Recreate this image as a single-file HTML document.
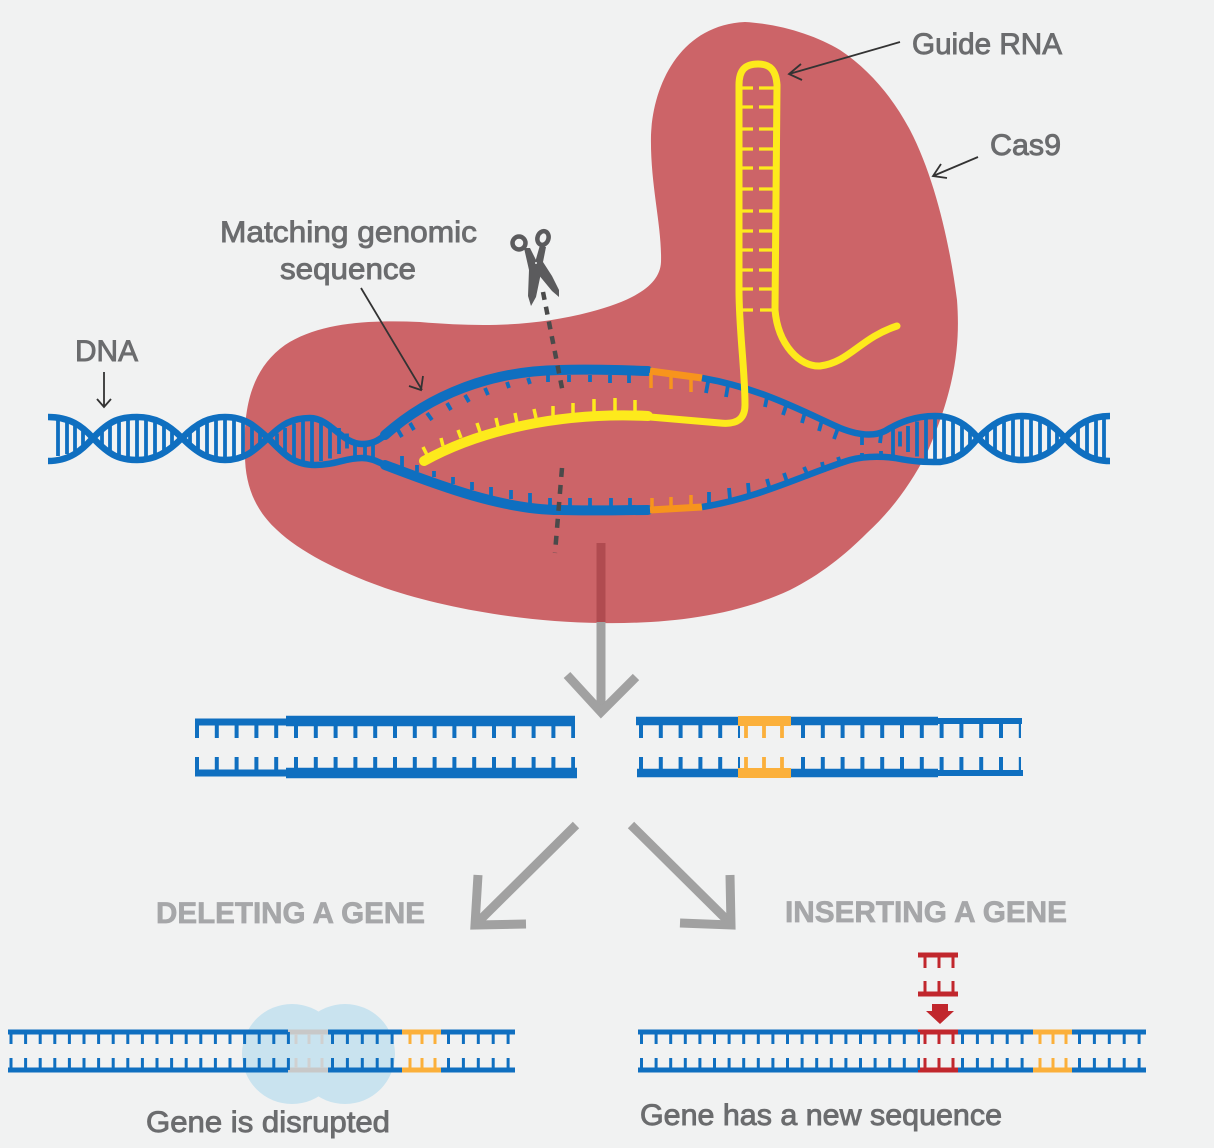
<!DOCTYPE html>
<html>
<head>
<meta charset="utf-8">
<style>
html,body{margin:0;padding:0;background:#f1f2f2;width:1214px;height:1148px;overflow:hidden}
svg{display:block}
text{font-family:"Liberation Sans",sans-serif}
.l{font-size:30px;fill:#6b6c6e;stroke:#6b6c6e;stroke-width:.9}
.h{font-size:30px;font-weight:bold;fill:#a6a7a9;stroke:#a6a7a9;stroke-width:.7}
</style>
</head>
<body>
<svg width="1214" height="1148" viewBox="0 0 1214 1148" xmlns="http://www.w3.org/2000/svg">
<defs>
<g id="lobe" stroke="#0f6fc0" stroke-width="3.8" fill="none">
<path d="M0 -21V21M-9 -20V20M9 -20V20M-18 -17.5V17.5M18 -17.5V17.5M-27 -13V13M27 -13V13M-35 -7.5V7.5M35 -7.5V7.5"/>
</g>
</defs>
<rect width="1214" height="1148" fill="#f1f2f2"/>

<!-- Cas9 -->
<path d="M745 22C780 24 815 35 840 50C870 70 893 98 910 130C935 178 950 245 957 300C960 340 957 385 927 453C910 485 892 510 867 533C845 555 820 575 790 590C730 618 660 624 600 623C530 622 450 610 385 588C340 572 300 552 277 530C255 510 245 485 245 455C243 410 250 370 285 345C320 322 370 320 420 322C490 328 540 325 590 312C635 300 660 285 661 262C662 225 650 185 651 135C653 85 680 25 745 22Z" fill="#cc6468"/>

<!-- DNA helix left -->
<g fill="none" stroke="#0f6fc0" stroke-width="6.5">
<path d="M48 417C70 417 82 426 93 438C110 420 120 417 137 417C155 417 168 424 182 438C198 422 210 417 225 417C245 417 255 426 268 438C282 424 292 418 310 418C330 418 342 444 362 444C372 444 378 441 385 435"/>
<path d="M48 461C70 461 82 450 93 438C110 456 120 460 137 460C155 460 168 452 182 438C198 454 210 460 225 460C245 460 255 450 268 438C282 452 292 465 315 465C335 465 345 458 362 458C372 458 378 462 385 465"/>
</g>
<use href="#lobe" x="137" y="438"/>
<use href="#lobe" x="225" y="438"/>
<use href="#lobe" x="312" y="441"/>
<path d="M58 420V456M67 422V454M75 425V451M83 429V447M355 445V458M365 444V458M373 442V460" stroke="#0f6fc0" stroke-width="3.8" fill="none"/>

<!-- Strands in bubble -->
<g fill="none" stroke-linecap="round">
<path d="M385 435C430 395 490 371 560 370C590 369 620 370 648 371" stroke="#0f6fc0" stroke-width="10"/>
<path d="M385 465C430 482 500 510 560 510C590 511 620 510 648 510" stroke="#0f6fc0" stroke-width="10"/>
</g>
<path d="M650 371L702 378" stroke="#f7941d" stroke-width="7" fill="none"/>
<path d="M650 510L702 507" stroke="#f7941d" stroke-width="7" fill="none"/>
<path d="M702 378C760 388 800 410 840 428C860 436 875 436 885 431C900 422 915 416 935 416C955 416 968 426 978 438C992 424 1004 416 1022 416C1042 416 1054 426 1065 438C1078 424 1090 416 1110 416" fill="none" stroke="#0f6fc0" stroke-width="6.5"/>
<path d="M702 507C760 498 810 472 850 460C865 456 880 456 895 458C915 462 925 462 940 462C958 460 968 450 978 438C992 452 1004 460 1022 460C1042 460 1054 450 1065 438C1078 452 1090 461 1110 461" fill="none" stroke="#0f6fc0" stroke-width="6.5"/>
<use href="#lobe" x="935" y="439"/>
<use href="#lobe" x="1022" y="438"/>
<path d="M1078 425V451M1087 421V455M1096 419V457M1104 418V459" stroke="#0f6fc0" stroke-width="3.8" fill="none"/>
<path d="M893 428V456" stroke="#0f6fc0" stroke-width="3.8"/>

<!-- curved ticks blue -->
<path d="M398 430L402 437M410 423L414 430M427 413L432 420M447 403L451 410M465 395L469 402M485 388L488 395M507 382L509 388M528 378L530 384M548 375V382M569 375V382M590 375V382M610 375V383M629 375V383M708 382L706 393M728 385L726 397M767 397L765 407M787 403L783 415M805 412L802 423M822 420L819 431M838 428L834 439M862 437V445M881 435L880 443M862 453V458M881 451V456M838 457L841 466M822 462L824 472M804 467L809 478M784 473L788 485M767 479L770 490M748 483L749 495M729 488L730 499M709 492V503M630 498V507M611 498V507M590 498V507M570 498V507M550 498V506M530 493V503M511 490V499M491 487V496M472 482V490M453 477V484M434 471V477M417 465V472M402 456V467" stroke="#0f6fc0" stroke-width="3.8" fill="none"/>
<path d="M651 373V388M671 375V389M691 377V392M691 495V505M671 497V507M652 498V508" stroke="#f7941d" stroke-width="3.5" fill="none"/>

<!-- Yellow RNA -->
<path d="M423 447L427 455M441 438L443 446M458 430L461 438M477 423L480 432M496 418L498 427M515 413L517 423M534 409L536 418M553 406V417M573 403V413M594 399V412M615 398V411M635 400V412" stroke="#fdea1c" stroke-width="3.5" fill="none"/>
<path d="M424 461C480 430 560 412 648 416" fill="none" stroke="#fdea1c" stroke-width="10" stroke-linecap="round"/>
<path d="M650 417L720 423C738 425 745 418 745 405C745 370 739 330 739 290L739 85C739 70 745 64 758 64C770 64 776 70 777 85L775 310C778 345 800 367 820 366C850 362 860 338 897 326" fill="none" stroke="#fdea1c" stroke-width="7" stroke-linecap="round"/>
<path d="M738 88H753M759 88H775M738 107H753M759 107H775M738 129H753M759 129H775M738 149H753M759 149H775M738 168H753M759 168H775M738 189H753M759 189H775M738 211H753M759 211H775M738 231H753M759 231H775M738 250H753M759 250H775M738 270H753M759 270H775M738 289H753M759 289H775M738 310H753M760 310H775" stroke="#fdea1c" stroke-width="3.2" fill="none"/>

<!-- cut lines -->
<path d="M543 292L563 393" stroke="#4a4a4a" stroke-width="4.5" stroke-dasharray="8 7" fill="none"/>
<path d="M562 468L555 553" stroke="#4a4a4a" stroke-width="4.5" stroke-dasharray="9 8" fill="none"/>

<!-- Scissors -->
<g fill="#5b5b5d">
<path d="M524 248L530 248L537 262L541 273L536 297L531 306L528 296L529 270Z"/>
<path d="M540 245L546 247L543 262L552 276L559 290L559 297L552 291L538 274L534 266Z"/>
<circle cx="519" cy="243" r="6.5" fill="none" stroke="#5b5b5d" stroke-width="4.5"/>
<ellipse cx="543" cy="238" rx="5.5" ry="7" transform="rotate(18 543 238)" fill="none" stroke="#5b5b5d" stroke-width="4.5"/>
<circle cx="536" cy="263" r="1" fill="#f1f2f2"/>
</g>

<!-- thin arrows -->
<g fill="none" stroke="#333" stroke-width="1.8">
<path d="M900 42L789 74M801 64L789 74L802 80"/>
<path d="M978 157L933 176M941 164L933 176L947 178"/>
<path d="M104 372V407M97 399L104 407L111 399"/>
<path d="M361 288L422 390M409 386L421 390L423 376"/>
</g>

<!-- gray arrows -->
<path d="M601 543V622" stroke="#b04b50" stroke-width="9" fill="none"/>
<path d="M601 622V712" stroke="#a1a1a1" stroke-width="9" fill="none"/>
<path d="M567 675L601 712L636 677" stroke="#a1a1a1" stroke-width="9" fill="none"/>
<path d="M576 825L478 922" stroke="#a1a1a1" stroke-width="9" fill="none"/>
<path d="M478 875L475 925L526 924" stroke="#a1a1a1" stroke-width="9" fill="none"/>
<path d="M631 825L729 922" stroke="#a1a1a1" stroke-width="9" fill="none"/>
<path d="M680 923L731 925L730 875" stroke="#a1a1a1" stroke-width="9" fill="none"/>

<!-- Middle cut DNA left -->
<g stroke="#0f6fc0" fill="none">
<path d="M195 722H286" stroke-width="7"/>
<path d="M286 721H575" stroke-width="10.5"/>
<path d="M195 773H286" stroke-width="7"/>
<path d="M286 773H577" stroke-width="10.5"/>
<line x1="195" x2="575" y1="731" y2="731" stroke-width="14" stroke-dasharray="4 15.8"/>
<line x1="195" x2="575" y1="764" y2="764" stroke-width="14" stroke-dasharray="4 15.8"/>
<!-- right -->
<path d="M636 721H738" stroke-width="8.5"/>
<path d="M791 721H938" stroke-width="8.5"/>
<path d="M938 721H1022" stroke-width="6"/>
<path d="M637 773H738" stroke-width="8.5"/>
<path d="M791 773H938" stroke-width="8.5"/>
<path d="M938 773H1023" stroke-width="6"/>
<line x1="639" x2="740" y1="731" y2="731" stroke-width="14" stroke-dasharray="4 15.8"/>
<line x1="639" x2="740" y1="764" y2="764" stroke-width="14" stroke-dasharray="4 15.8"/>
<line x1="801" x2="1021" y1="731" y2="731" stroke-width="14" stroke-dasharray="4 15.8"/>
<line x1="801" x2="1021" y1="764" y2="764" stroke-width="14" stroke-dasharray="4 15.8"/>
</g>
<path d="M738 721H791M738 773H791" stroke="#fbb03b" stroke-width="10" fill="none"/>
<path d="M746 724V738M764 724V738M782 724V738M746 757V770M764 757V770M782 757V770" stroke="#fbb03b" stroke-width="3.8" fill="none"/>

<!-- Circles -->
<circle cx="292" cy="1054" r="50" fill="#c9e3ef"/>
<circle cx="345" cy="1054" r="50" fill="#c9e3ef"/>

<!-- Bottom left DNA -->
<g fill="none">
<path d="M8 1032H288M328 1032H402M441 1032H515M8 1070H288M328 1070H402M441 1070H515" stroke="#0f6fc0" stroke-width="5"/>
<path d="M288 1032H328M288 1070H328" stroke="#c8c8c8" stroke-width="5"/>
<path d="M402 1032H441M402 1070H441" stroke="#fbb03b" stroke-width="5"/>
<g stroke="#0f6fc0" stroke-width="12">
<line x1="9.5" x2="290" y1="1038" y2="1038" stroke-dasharray="3 11.6"/>
<line x1="9.5" x2="290" y1="1064" y2="1064" stroke-dasharray="3 11.6"/>
<line x1="331" x2="396" y1="1038" y2="1038" stroke-dasharray="3 11.9"/>
<line x1="331" x2="396" y1="1064" y2="1064" stroke-dasharray="3 11.9"/>
<line x1="447" x2="510" y1="1038" y2="1038" stroke-dasharray="3 11.9"/>
<line x1="447" x2="510" y1="1064" y2="1064" stroke-dasharray="3 11.9"/>
</g>
<path d="M296 1034V1044M309 1034V1044M322 1034V1044M296 1058V1068M309 1058V1068M322 1058V1068" stroke="#d0d0d0" stroke-width="3"/>
<path d="M410 1034V1044M422 1034V1044M435 1034V1044M410 1058V1068M422 1058V1068M435 1058V1068" stroke="#fbb03b" stroke-width="3"/>
</g>

<!-- Bottom right DNA -->
<g fill="none">
<path d="M638 1032H918M958 1032H1033M1072 1032H1146M638 1070H918M958 1070H1033M1072 1070H1146" stroke="#0f6fc0" stroke-width="5"/>
<path d="M918 1032H958M918 1070H958" stroke="#c1272d" stroke-width="5"/>
<path d="M1033 1032H1072M1033 1070H1072" stroke="#fbb03b" stroke-width="5"/>
<g stroke="#0f6fc0" stroke-width="12">
<line x1="640" x2="920" y1="1038" y2="1038" stroke-dasharray="3 11.6"/>
<line x1="640" x2="920" y1="1064" y2="1064" stroke-dasharray="3 11.6"/>
<line x1="961" x2="1026" y1="1038" y2="1038" stroke-dasharray="3 11.9"/>
<line x1="961" x2="1026" y1="1064" y2="1064" stroke-dasharray="3 11.9"/>
<line x1="1078" x2="1142" y1="1038" y2="1038" stroke-dasharray="3 11.9"/>
<line x1="1078" x2="1142" y1="1064" y2="1064" stroke-dasharray="3 11.9"/>
</g>
<path d="M925 1034V1044M939 1034V1044M953 1034V1044M925 1058V1068M939 1058V1068M953 1058V1068" stroke="#c1272d" stroke-width="3"/>
<path d="M1040 1034V1044M1053 1034V1044M1066 1034V1044M1040 1058V1068M1053 1058V1068M1066 1058V1068" stroke="#fbb03b" stroke-width="3"/>
<!-- insert -->
<path d="M918 955H958M918 994H958" stroke="#c1272d" stroke-width="5"/>
<path d="M925 955V968M939 955V968M953 955V968M925 981V994M939 981V994M953 981V994" stroke="#c1272d" stroke-width="3"/>
</g>
<path d="M932 1004H948V1011H954L940 1024L926 1011H932Z" fill="#c1272d"/>

<!-- Labels -->
<text class="l" x="912" y="54" textLength="150" lengthAdjust="spacingAndGlyphs">Guide RNA</text>
<text class="l" x="990" y="155" textLength="71" lengthAdjust="spacingAndGlyphs">Cas9</text>
<text class="l" x="220" y="242" textLength="257" lengthAdjust="spacingAndGlyphs">Matching genomic</text>
<text class="l" x="280" y="279" textLength="136" lengthAdjust="spacingAndGlyphs">sequence</text>
<text class="l" x="75" y="361" textLength="63" lengthAdjust="spacingAndGlyphs">DNA</text>
<text class="h" x="156" y="923" textLength="269" lengthAdjust="spacingAndGlyphs">DELETING A GENE</text>
<text class="h" x="785" y="922" textLength="282" lengthAdjust="spacingAndGlyphs">INSERTING A GENE</text>
<text class="l" x="146" y="1132" textLength="244" lengthAdjust="spacingAndGlyphs">Gene is disrupted</text>
<text class="l" x="640" y="1125" textLength="362" lengthAdjust="spacingAndGlyphs">Gene has a new sequence</text>
</svg>
</body>
</html>
